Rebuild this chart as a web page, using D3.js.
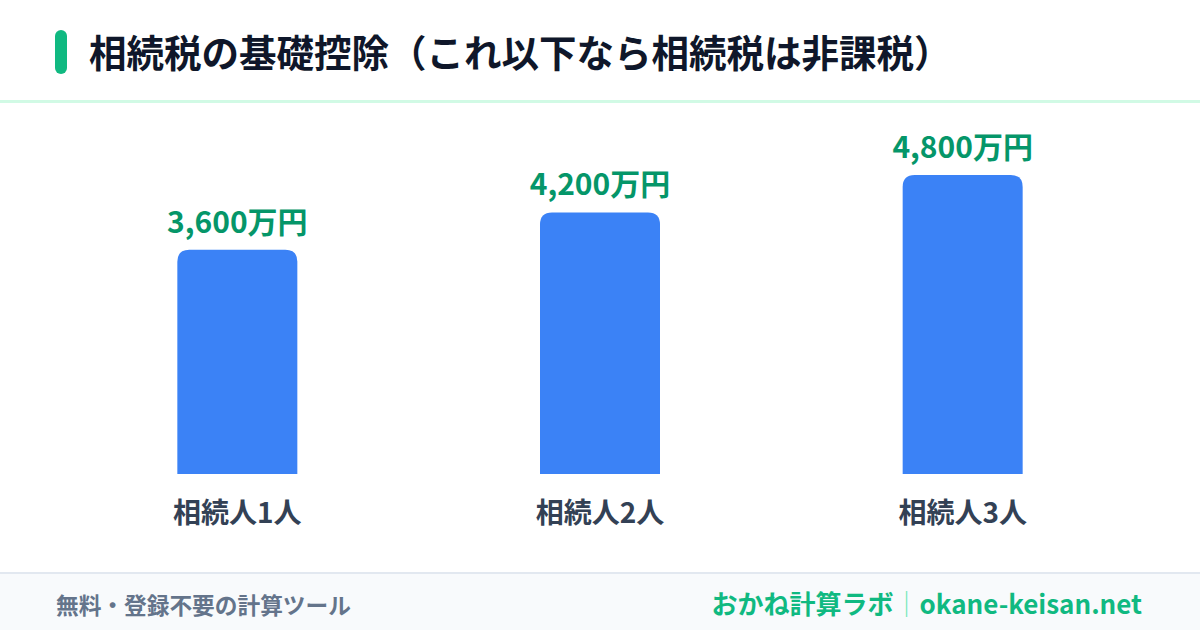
<!DOCTYPE html>
<html>
<head>
<meta charset="utf-8">
<script src="https://cdn.jsdelivr.net/npm/d3@7"></script>
<style>
  html, body { margin: 0; padding: 0; background: #ffffff; }
  svg { display: block; font-family: "Noto Sans CJK JP", "Noto Sans", sans-serif; }
</style>
</head>
<body>
<div id="chart"></div>
<script>
// Data
const categories = ['相続人1人', '相続人2人', '相続人3人'];
const values = [3600, 4200, 4800];   // 万円
const valueLabels = ['3,600万円', '4,200万円', '4,800万円'];
const title = '相続税の基礎控除（これ以下なら相続税は非課税）';
const footerLeft = '無料・登録不要の計算ツール';
const footerBrand = 'おかね計算ラボ';
const footerSite = 'okane-keisan.net';

const width = 1200;
const height = 630;

const svg = d3.select('#chart')
    .append('svg')
    .attr('width', width)
    .attr('height', height);

// Header
svg.append('rect')
    .attr('x', 55).attr('y', 30)
    .attr('width', 12).attr('height', 44)
    .attr('rx', 6)
    .attr('fill', '#10b981');

svg.append('text')
    .attr('x', 89).attr('y', 67)
    .attr('font-size', 37.5)
    .attr('font-weight', 700)
    .attr('fill', '#0f172a')
    .text(title);

svg.append('rect')
    .attr('x', 0).attr('y', 100)
    .attr('width', width).attr('height', 3)
    .attr('fill', '#d1fae5');

// Scales
const baseY = 474;
const x = d3.scaleBand()
    .domain(categories)
    .range([56, 1144]);

const y = d3.scaleLinear()
    .domain([0, d3.max(values)])
    .range([baseY, 175]);

const barW = 120;
const r = 12;

// bar path with rounded top corners only
function barPath(d, i) {
    const cx = x(categories[i]) + x.bandwidth() / 2;
    const x0 = cx - barW / 2, x1 = cx + barW / 2;
    const top = y(d);
    return `M${x0},${baseY}V${top + r}Q${x0},${top} ${x0 + r},${top}H${x1 - r}Q${x1},${top} ${x1},${top + r}V${baseY}Z`;
}

const g = svg.append('g');

g.selectAll('path.bar')
    .data(values)
    .join('path')
    .attr('class', 'bar')
    .attr('d', barPath)
    .attr('fill', '#3b82f6');

g.selectAll('text.value')
    .data(values)
    .join('text')
    .attr('class', 'value')
    .attr('x', (d, i) => x(categories[i]) + x.bandwidth() / 2)
    .attr('y', d => y(d) - 17)
    .attr('text-anchor', 'middle')
    .attr('font-size', 30)
    .attr('font-weight', 700)
    .attr('fill', '#059669')
    .text((d, i) => valueLabels[i]);

g.selectAll('text.cat')
    .data(categories)
    .join('text')
    .attr('class', 'cat')
    .attr('x', d => x(d) + x.bandwidth() / 2)
    .attr('y', 523)
    .attr('text-anchor', 'middle')
    .attr('font-size', 28)
    .attr('font-weight', 700)
    .attr('fill', '#334155')
    .text(d => d);

// Footer
svg.append('rect')
    .attr('x', 0).attr('y', 572)
    .attr('width', width).attr('height', height - 572)
    .attr('fill', '#f8fafc');

svg.append('rect')
    .attr('x', 0).attr('y', 572)
    .attr('width', width).attr('height', 2)
    .attr('fill', '#e2e8f0');

svg.append('text')
    .attr('x', 56).attr('y', 614)
    .attr('font-size', 22.7)
    .attr('font-weight', 700)
    .attr('fill', '#64748b')
    .text(footerLeft);

const brand = svg.append('text')
    .attr('x', 1142).attr('y', 614)
    .attr('text-anchor', 'end')
    .attr('font-size', 26)
    .attr('font-weight', 700)
    .attr('fill', '#10b981');
brand.append('tspan').text(footerBrand);
brand.append('tspan').attr('fill', '#6ee7b7').attr('font-weight', 400).text('｜');
brand.append('tspan').text(footerSite);
</script>
</body>
</html>
